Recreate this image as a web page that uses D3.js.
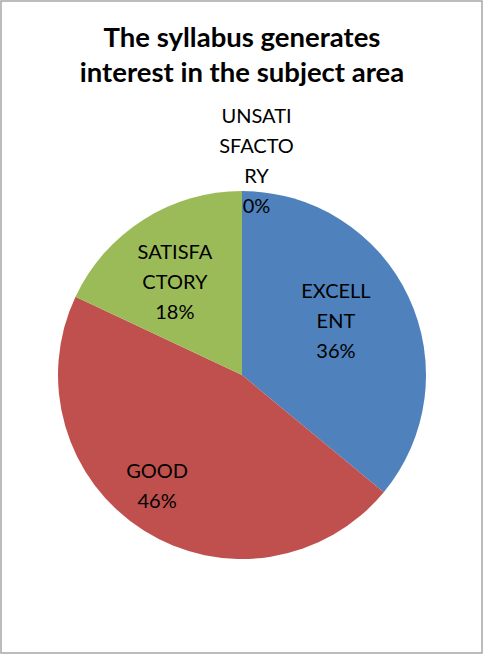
<!DOCTYPE html>
<html>
<head>
<meta charset="utf-8">
<script src="https://cdn.jsdelivr.net/npm/d3@7"></script>
<style>
  body { margin: 0; background: #fff; }
  svg { display: block; }
  .title { font-family: Lato, "Open Sans", sans-serif; font-weight: bold; font-size: 27.5px; }
  .label { font-family: Lato, "Open Sans", sans-serif; font-size: 20px; fill: #000; }
</style>
</head>
<body>
<svg width="484" height="655"></svg>
<script>
// chart data
const categories = ["EXCELLENT", "GOOD", "SATISFACTORY", "UNSATISFACTORY"];
const percents = [36, 46, 18, 0];
const labelLines = [["EXCELL", "ENT"], ["GOOD"], ["SATISFA", "CTORY"], ["UNSATI", "SFACTO", "RY"]];
const titleLines = ["The syllabus generates", "interest in the subject area"];

(function () {
  "use strict";
  const svg = d3.select("svg");
  const width = +svg.attr("width");
  const height = +svg.attr("height");

  const colors = ["#4F81BD", "#C0504D", "#9BBB59", "#8064A2"];

  svg.append("rect")
    .attr("x", 1).attr("y", 1)
    .attr("width", width - 3).attr("height", height - 3)
    .attr("fill", "#fff")
    .attr("stroke", "#a6a6a6")
    .attr("stroke-width", 1.5);

  svg.append("text")
    .attr("class", "title")
    .attr("text-anchor", "middle")
    .selectAll("tspan")
    .data(titleLines)
    .join("tspan")
    .attr("x", 242)
    .attr("y", (d, i) => 47 + i * 34.5)
    .text((d) => d);

  const cx = 242, cy = 375, r = 184;
  const g = svg.append("g").attr("transform", `translate(${cx},${cy})`);

  const data = categories.map((c, i) => ({ name: c, value: percents[i], lines: labelLines[i] }));
  const pie = d3.pie().sort(null).value((d) => d.value);
  const arcs = pie(data);
  const arc = d3.arc().innerRadius(0).outerRadius(r);

  g.selectAll("path")
    .data(arcs)
    .join("path")
    .attr("d", arc)
    .attr("fill", (d, i) => colors[i]);

  // label placement: radius factor and nudge per slice (Excel-like inside labels)
  const labelRadius = [0.6, 0.76, 0.62, 1.16];
  const nudge = [[-6, -7], [-10, -7.5], [-6, 3], [14.5, -0.5]];
  const lineH = 30;

  const labels = g.selectAll("g.lbl")
    .data(arcs)
    .join("g")
    .attr("class", "lbl")
    .attr("transform", (d, i) => {
      const rr = r * labelRadius[i];
      const c = d3.arc().innerRadius(rr).outerRadius(rr).centroid(d);
      return `translate(${c[0] + nudge[i][0]},${c[1] + nudge[i][1]})`;
    });

  labels.append("text")
    .attr("class", "label")
    .attr("text-anchor", "middle")
    .selectAll("tspan")
    .data((d) => {
      const all = d.data.lines.concat([d.data.value + "%"]);
      return all.map((t, k) => ({ t, y: (k - (all.length - 1) / 2) * lineH }));
    })
    .join("tspan")
    .attr("x", 0)
    .attr("y", (d) => d.y)
    .attr("dy", "0.35em")
    .text((d) => d.t);
})();
</script>
</body>
</html>
